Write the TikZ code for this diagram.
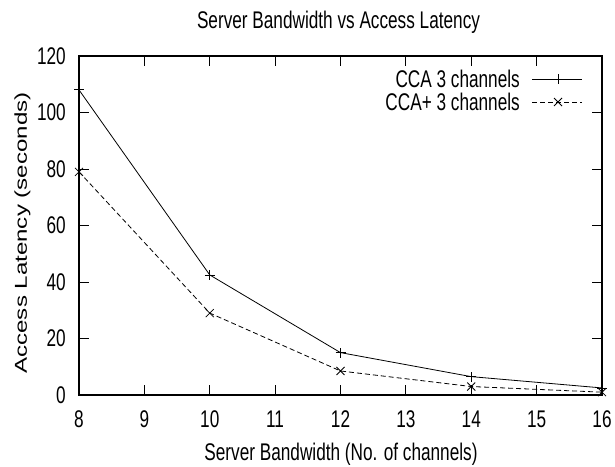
\documentclass[tikz,border=0pt]{standalone}
\usepackage{fontspec}
\setmainfont{Liberation Sans}
\begin{document}
\begin{tikzpicture}[x=1pt,y=1pt]
        \tikzstyle{label text}=[font=\fontsize{17.2}{20}\selectfont,yscale=1.4,inner sep=0pt]
        \tikzstyle{frame line}=[line width=1.5pt]
        \tikzstyle{tick line}=[line width=0.8pt]
        \tikzstyle{data line}=[line width=0.8pt]
        \tikzstyle{dash line}=[line width=0.8pt,dash pattern=on 5pt off 3pt]
        \useasboundingbox (0,0) rectangle (615,466);
        % title and axis labels
        \node[label text,anchor=base] (Title) at (338.5,437) {Server Bandwidth vs Access Latency};
        \node[label text,anchor=base] (XLabel) at (341,6) {Server Bandwidth (No. of channels)};
        \node[label text,rotate=90,anchor=base] (YLabel) at (27,233) {Access Latency (seconds)};
        \begin{scope}[shift={(-444pt,71pt)},x=65.375pt,y=2.825pt]
            % frame
            \draw[frame line] (8,0) rectangle (16,120);
            % x ticks
            \foreach \c in {8,...,16} {
                \draw[tick line] (\c,0) -- ++(0,10pt);
                \draw[tick line] (\c,120) -- ++(0,-10pt);
                \node[label text,anchor=base] (xtick\c) at ([yshift=-32pt]\c,0) {\c};
            }
            % y ticks
            \foreach \v in {0,20,...,120} {
                \draw[tick line] (8,\v) -- ++(10pt,0);
                \draw[tick line] (16,\v) -- ++(-10pt,0);
                \node[label text,anchor=east] (ytick\v) at ([xshift=-13pt]8,\v) {\v};
            }
            % CCA 3 channels
            \coordinate (cca8) at (8,108);
            \coordinate (cca10) at (10,42.5);
            \coordinate (cca12) at (12,15);
            \coordinate (cca14) at (14,6.5);
            \coordinate (cca16) at (16,2.5);
            \draw[data line] (cca8) -- (cca10) -- (cca12) -- (cca14) -- (cca16);
            \foreach \p in {cca8,cca10,cca12,cca14,cca16}
                \draw[data line] ([xshift=-5pt]\p) -- ([xshift=5pt]\p)
                    ([yshift=-5pt]\p) -- ([yshift=5pt]\p);
            % CCA+ 3 channels
            \coordinate (ccap8) at (8,79);
            \coordinate (ccap10) at (10,29);
            \coordinate (ccap12) at (12,8.5);
            \coordinate (ccap14) at (14,3);
            \coordinate (ccap16) at (16,1);
            \draw[dash line] (ccap8) -- (ccap10) -- (ccap12) -- (ccap14) -- (ccap16);
            \foreach \p in {ccap8,ccap10,ccap12,ccap14,ccap16}
                \draw[data line] ([shift={(-4pt,-4pt)}]\p) -- ([shift={(4pt,4pt)}]\p)
                    ([shift={(-4pt,4pt)}]\p) -- ([shift={(4pt,-4pt)}]\p);
        \end{scope}
        % legend
        \node[label text,anchor=east] (KeyA) at (520,387) {CCA 3 channels};
        \coordinate (KeyAl) at (532,387);
        \coordinate (KeyAr) at (582,387);
        \coordinate (KeyAm) at (558,387);
        \draw[data line] (KeyAl) -- (KeyAr);
        \draw[data line] ([xshift=-5pt]KeyAm) -- ([xshift=5pt]KeyAm)
            ([yshift=-5pt]KeyAm) -- ([yshift=5pt]KeyAm);
        \node[label text,anchor=east] (KeyB) at (520,364) {CCA+ 3 channels};
        \coordinate (KeyBl) at (532,364);
        \coordinate (KeyBr) at (582,364);
        \coordinate (KeyBm) at (558,364);
        \draw[dash line] (KeyBl) -- (KeyBr);
        \draw[data line] ([shift={(-4pt,-4pt)}]KeyBm) -- ([shift={(4pt,4pt)}]KeyBm)
            ([shift={(-4pt,4pt)}]KeyBm) -- ([shift={(4pt,-4pt)}]KeyBm);
\end{tikzpicture}
\end{document}
